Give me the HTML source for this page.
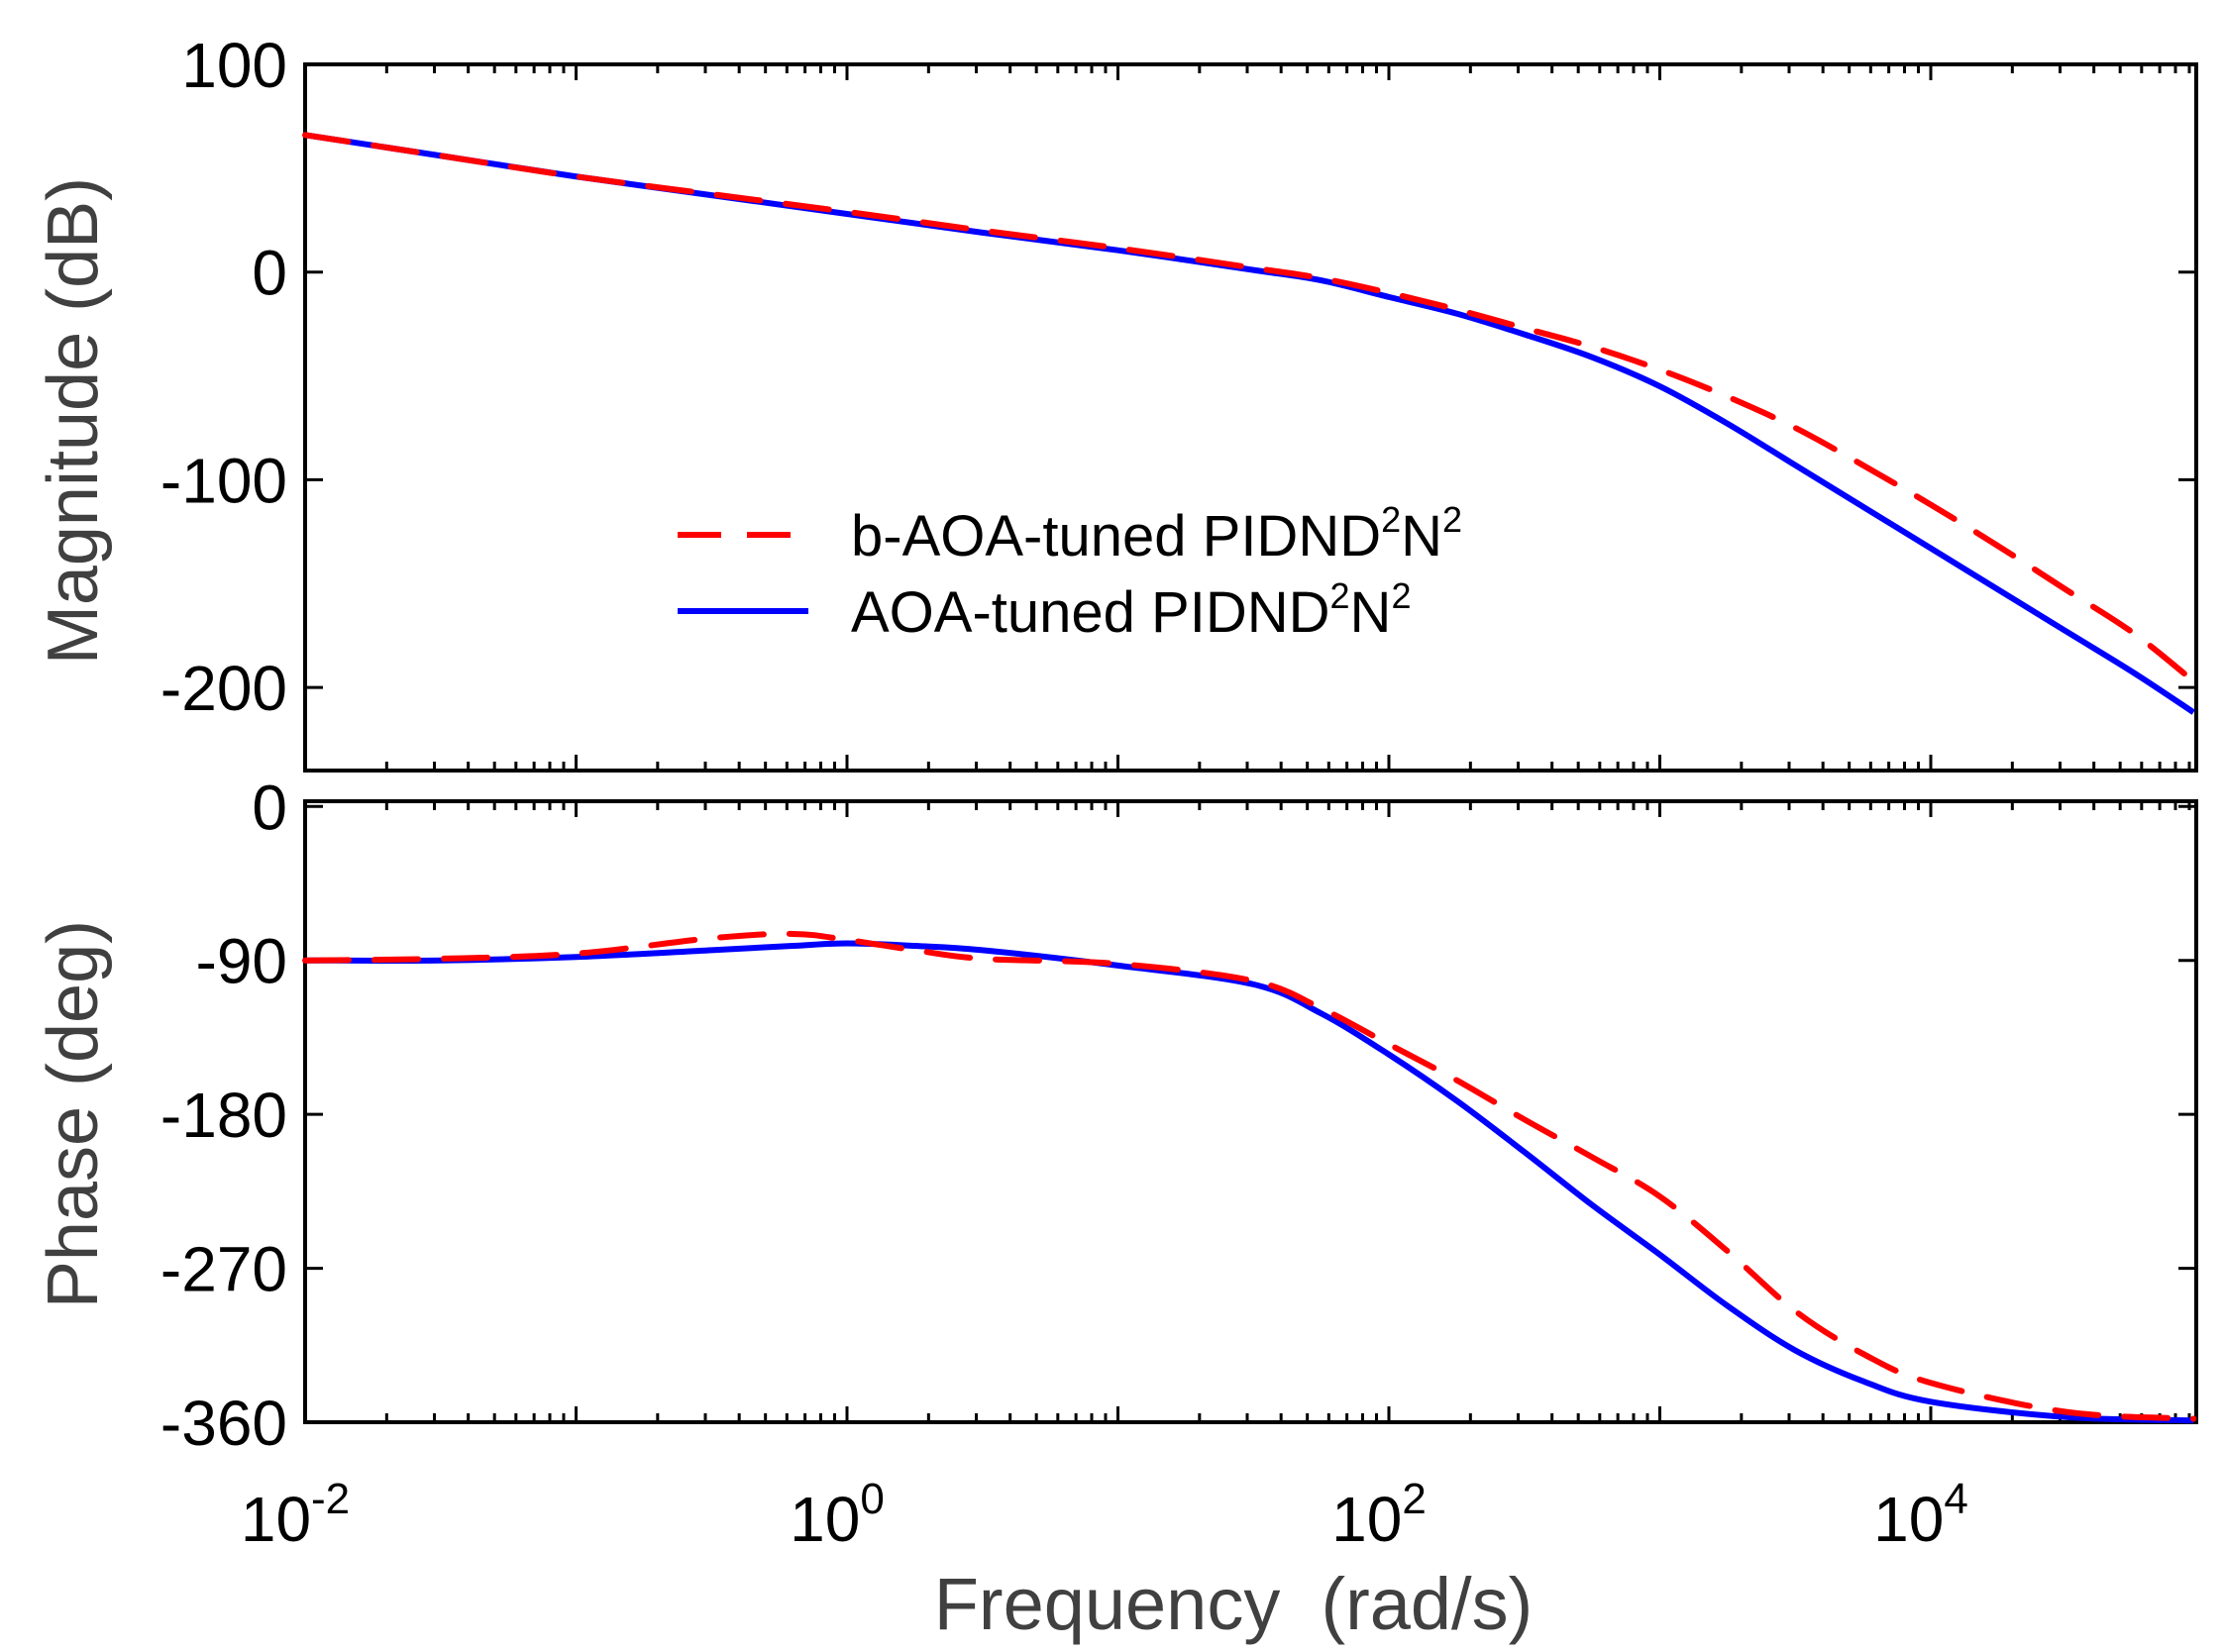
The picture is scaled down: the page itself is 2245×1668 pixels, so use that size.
<!DOCTYPE html>
<html><head><meta charset="utf-8"><style>
body{margin:0;background:#fff}
svg{display:block;font-family:"Liberation Sans",Arial,sans-serif}
</style></head><body>
<svg id="c" width="2245" height="1668" viewBox="0 0 2245 1668"></svg>
<script>
const freqLogM=[-2,-1.5,-1,-0.5,0,0.5,1,1.5,1.75,2,2.25,2.5,2.75,3,3.25,3.5,3.75,4,4.25,4.5,4.75,4.97];
const magBlue=[66,56,46,37,28,19,10.5,1,-4,-12,-20,-30,-41,-55,-73,-93,-113,-133,-153,-173,-193,-212];
const magRed=[66,56,46,37.5,29,20,11.5,2,-3,-10,-18,-27,-36,-47,-60,-75,-93,-112,-132,-153,-174,-197];
const freqLogP=[-2,-1.5,-1,-0.5,-0.2,0,0.25,0.5,1,1.5,1.75,2,2.25,2.5,2.75,3,3.25,3.5,3.75,4,4.5,4.97];
const phBlue=[-90,-90,-88,-84,-81.5,-80,-81.5,-84,-93,-104,-121,-145,-172,-202,-233,-262,-292,-318,-336,-348,-357,-359];
const phRed=[-90,-89,-86,-77,-74.5,-78,-84,-89,-92,-102,-118,-139,-160,-183,-205,-228,-260,-295,-320,-337,-354,-358];
const magTicks=[100,0,-100,-200];
const phTicks=[0,-90,-180,-270,-360];
const xDecades=[-2,0,2,4];

const svg=document.getElementById('c');
const NS='http://www.w3.org/2000/svg';
const X0=308,X1=2217,DEC=273.5;
const xs=l=>X0+(l+2)*DEC;
const yM=v=>65+(100-v)*(713/340);
const yP=v=>1436-(v+360)*1.727;
function mk(t,a,p){const e=document.createElementNS(NS,t);for(const k in a)e.setAttribute(k,a[k]);(p||svg).appendChild(e);return e;}
function pathD(xsArr,ysArr){const P=xsArr.map((x,i)=>[x,ysArr[i]]);let d='M'+P[0][0]+','+P[0][1];
for(let i=0;i<P.length-1;i++){const p0=P[Math.max(0,i-1)],p1=P[i],p2=P[i+1],p3=P[Math.min(P.length-1,i+2)];
const c1=[p1[0]+(p2[0]-p0[0])/6,p1[1]+(p2[1]-p0[1])/6],c2=[p2[0]-(p3[0]-p1[0])/6,p2[1]-(p3[1]-p1[1])/6];
d+=` C${c1[0]},${c1[1]} ${c2[0]},${c2[1]} ${p2[0]},${p2[1]}`;}return d;}

function panel(top,bot,name){
  const g=mk('g',{});
  
  
  mk('rect',{x:X0,y:top,width:X1-X0,height:bot-top,fill:'none',stroke:'#000','stroke-width':4},g);
  for(let d=-2;d<5;d++){for(let m=1;m<10;m++){const l=d+Math.log10(m);if(l>4.97)break;const x=xs(l);const L=m==1?16:9;
    mk('line',{x1:x,x2:x,y1:top,y2:top+L,stroke:'#000','stroke-width':3},g);
    mk('line',{x1:x,x2:x,y1:bot,y2:bot-L,stroke:'#000','stroke-width':3},g);}}
  return g;
}
panel(65,778,'magnitude');
panel(809,1436,'phase');

function yticks(vals,f,name){vals.forEach(v=>{const y=f(v);
  mk('line',{x1:X0,x2:X0+18,y1:y,y2:y,stroke:'#000','stroke-width':3});
  mk('line',{x1:X1,x2:X1-18,y1:y,y2:y,stroke:'#000','stroke-width':3});
  const t=mk('text',{x:290,y:y+23,'text-anchor':'end','font-size':64,fill:'#000'});
  
  
  t.textContent=v;});}
yticks(magTicks,yM,'magnitude');
yticks(phTicks,yP,'phase');

xDecades.forEach(l=>{const t=mk('text',{x:xs(l)-10,y:1556,'text-anchor':'middle','font-size':64,fill:'#000'});
  
  
  t.textContent='10';const s=mk('tspan',{dy:-28,'font-size':44},t);s.textContent=String(l);});

function series(xl,vals,f,color,dash,name){const p=mk('path',{d:pathD(xl.map(xs),vals.map(f)),fill:'none',stroke:color,'stroke-width':6,'stroke-dasharray':dash||'none','stroke-linecap':dash?'round':'butt'});
  
  }
series(freqLogM,magBlue,yM,'#0000ff',null,'magnitude-aoa-line');
series(freqLogM,magRed,yM,'#ff0000','44 26','magnitude-b-aoa-line');
series(freqLogP,phBlue,yP,'#0000ff',null,'phase-aoa-line');
series(freqLogP,phRed,yP,'#ff0000','44 26','phase-b-aoa-line');

const lg=mk('g',{});


mk('line',{x1:684,x2:816,y1:540,y2:540,stroke:'#ff0000','stroke-width':6,'stroke-dasharray':'44 26'},lg);
mk('line',{x1:684,x2:816,y1:617,y2:617,stroke:'#0000ff','stroke-width':6},lg);
function legText(y,txt,name){const t=mk('text',{x:859,y:y,'font-size':58,fill:'#000'},lg);
  
  
  t.appendChild(document.createTextNode(txt+' PIDND'));
  let s=mk('tspan',{dy:-24,'font-size':36},t);s.textContent='2';
  s=mk('tspan',{dy:24},t);s.textContent='N';
  s=mk('tspan',{dy:-24,'font-size':36},t);s.textContent='2';}
legText(561,'b-AOA-tuned','legend-b-aoa');
legText(638,'AOA-tuned','legend-aoa');

const xt=mk('text',{x:1245,y:1645,'text-anchor':'middle','font-size':74,fill:'#404040','xml:space':'preserve'});


xt.textContent='Frequency\u00a0\u00a0(rad/s)';
const yt1=mk('text',{x:0,y:0,'text-anchor':'middle','font-size':72,fill:'#404040',transform:'translate(98,425) rotate(-90)'});


yt1.textContent='Magnitude (dB)';
const yt2=mk('text',{x:0,y:0,'text-anchor':'middle','font-size':72,fill:'#404040',transform:'translate(98,1125) rotate(-90)'});


yt2.textContent='Phase (deg)';
</script>
</body></html>
